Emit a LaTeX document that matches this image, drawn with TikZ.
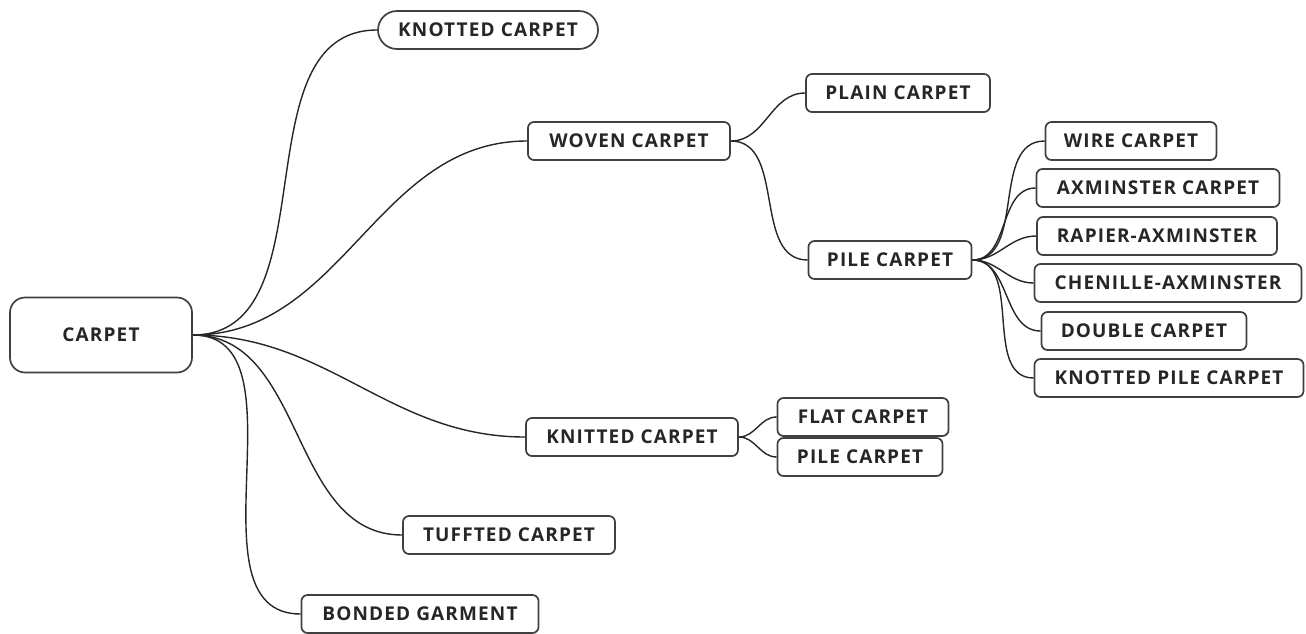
\documentclass[tikz,border=0pt]{standalone}
\usepackage{fontspec}
\setmainfont{Open Sans}
\newfontfamily\boxfont[LetterSpace=6]{Open Sans}
\begin{document}
\begin{tikzpicture}[x=1pt,y=-1pt,
  box/.style={draw=black!75, line width=1.7pt, rounded corners=6pt, fill=white,
    font=\boxfont\bfseries\fontsize{19}{21}\selectfont, text=black!85, inner sep=0pt,
    minimum height=38pt},
  link/.style={draw=black!85, line width=1.4pt}]
\useasboundingbox (0,0) rectangle (1306,633);
\node[box, minimum width=182pt, minimum height=75pt, rounded corners=15pt] (root) at (101,335) {CARPET};
\node[box, minimum width=220pt, rounded corners=19pt] (knot) at (488,30) {KNOTTED CARPET};
\node[box, minimum width=202pt] (woven) at (629,141) {WOVEN CARPET};
\node[box, minimum width=184pt] (plain) at (898,93) {PLAIN CARPET};
\node[box, minimum width=163pt] (pile) at (890,260) {PILE CARPET};
\node[box, minimum width=171pt] (wire) at (1131,141) {WIRE CARPET};
\node[box, minimum width=243pt] (axm) at (1158,188) {AXMINSTER CARPET};
\node[box, minimum width=240pt] (rap) at (1157,236) {RAPIER-AXMINSTER};
\node[box, minimum width=267pt] (chen) at (1168,283) {CHENILLE-AXMINSTER};
\node[box, minimum width=205pt] (dbl) at (1144,331) {DOUBLE CARPET};
\node[box, minimum width=269pt] (kpile) at (1169,378) {KNOTTED PILE CARPET};
\node[box, minimum width=212pt] (knit) at (632,437) {KNITTED CARPET};
\node[box, minimum width=171pt] (flat) at (863,417) {FLAT CARPET};
\node[box, minimum width=165pt] (kpc) at (860,457) {PILE CARPET};
\node[box, minimum width=212pt] (tuft) at (509,535) {TUFFTED CARPET};
\node[box, minimum width=237pt] (bond) at (420,614) {BONDED GARMENT};

\foreach \t in {knot,woven,knit,tuft,bond}
  \draw[link] (root.east) to[out=0,in=180] (\t.west);
\foreach \t in {plain,pile}
  \draw[link] (woven.east) to[out=0,in=180] (\t.west);
\foreach \t in {wire,axm,rap,chen,dbl,kpile}
  \draw[link] (pile.east) to[out=0,in=180] (\t.west);
\foreach \t in {flat,kpc}
  \draw[link] (knit.east) to[out=0,in=180] (\t.west);
\end{tikzpicture}
\end{document}
